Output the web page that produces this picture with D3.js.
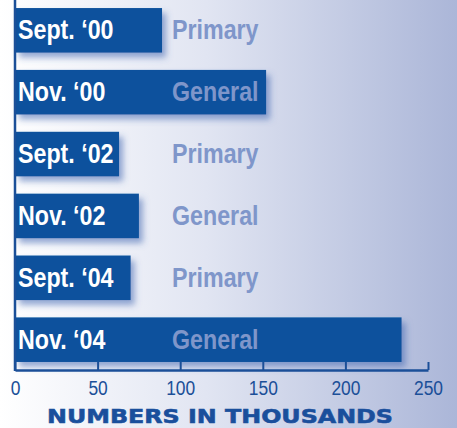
<!DOCTYPE html>
<html>
<head>
<meta charset="utf-8">
<script src="https://cdn.jsdelivr.net/npm/d3@7"></script>
<style>
  body { margin: 0; overflow: hidden; }
  svg { display: block; }
</style>
</head>
<body>
<div id="chart"></div>
<script>
// Data
const periods = ["Sept. ‘00", "Nov. ‘00", "Sept. ‘02", "Nov. ‘02", "Sept. ‘04", "Nov. ‘04"];
const electionTypes = ["Primary", "General", "Primary", "General", "Primary", "General"];
const voters = [89, 152, 63, 75, 70, 234]; // thousands
const ticks = [0, 50, 100, 150, 200, 250];

const width = 457;
const height = 428;
const narrow = 0.83; // squeeze text to look like a condensed face

const svg = d3.select("#chart")
    .append("svg")
    .attr("width", width)
    .attr("height", height);

const defs = svg.append("defs");

// Background gradient
const bg = defs.append("linearGradient")
    .attr("id", "bg-gradient")
    .attr("x1", "0%").attr("x2", "100%")
    .attr("y1", "0%").attr("y2", "0%");
bg.append("stop").attr("offset", "0%").style("stop-color", "#ffffff");
bg.append("stop").attr("offset", "45%").style("stop-color", "#e1e5f2");
bg.append("stop").attr("offset", "100%").style("stop-color", "#abb6d8");

// Bar shadow
const shadow = defs.append("filter")
    .attr("id", "shadow")
    .attr("x", "-10%").attr("y", "-20%")
    .attr("width", "130%").attr("height", "160%");
shadow.append("feDropShadow")
    .attr("dx", 4)
    .attr("dy", 5)
    .attr("stdDeviation", 3)
    .attr("flood-color", "#3d64b0")
    .attr("flood-opacity", 0.55);

svg.append("rect")
    .attr("width", width)
    .attr("height", height)
    .style("fill", "url(#bg-gradient)");

// Scales
const x = d3.scaleLinear()
    .domain([0, 250])
    .range([15, 428]);

const y = d3.scaleBand()
    .domain(periods)
    .range([0, 370])
    .paddingInner(0.28)
    .paddingOuter(0.13);

// Bars
const rows = svg.selectAll(".row")
    .data(periods)
    .enter()
    .append("g")
    .attr("class", "row")
    .attr("transform", d => `translate(0,${y(d)})`);

rows.append("rect")
    .attr("x", x(0))
    .attr("y", 0)
    .attr("width", (d, i) => x(voters[i]) - x(0))
    .attr("height", y.bandwidth())
    .attr("filter", "url(#shadow)")
    .style("fill", "#0b519d");

rows.append("text")
    .attr("transform", `translate(18,${y.bandwidth() / 2 + 9}) scale(${narrow},1)`)
    .text(d => d)
    .style("font-family", "'Liberation Sans', Arial, sans-serif")
    .style("font-weight", "bold")
    .style("font-size", "28px")
    .style("fill", "#ffffff");

rows.append("text")
    .attr("transform", `translate(172,${y.bandwidth() / 2 + 9}) scale(${narrow},1)`)
    .text((d, i) => electionTypes[i])
    .style("font-family", "'Liberation Sans', Arial, sans-serif")
    .style("font-weight", "bold")
    .style("font-size", "28px")
    .style("fill", "#7f96ca");

// Axes
const axisColor = "#1b4f98";

svg.append("line")
    .attr("x1", x(0)).attr("x2", x(0))
    .attr("y1", 0).attr("y2", 371)
    .style("stroke", axisColor)
    .style("stroke-width", 2.5);

const xAxis = svg.append("g")
    .attr("class", "x-axis")
    .attr("transform", "translate(0,370)")
    .call(d3.axisBottom(x).tickValues(ticks).tickSize(-8).tickSizeOuter(0));

xAxis.select(".domain")
    .style("stroke", axisColor)
    .style("stroke-width", 2.5);
xAxis.selectAll(".tick line")
    .style("stroke", axisColor)
    .style("stroke-width", 2);
xAxis.selectAll(".tick text")
    .attr("y", null)
    .attr("dy", null)
    .attr("transform", `translate(0,25) scale(${narrow},1)`)
    .style("font-family", "'Liberation Sans', Arial, sans-serif")
    .style("font-size", "21px")
    .style("fill", axisColor);

// Axis title
svg.append("text")
    .attr("x", 220)
    .attr("y", 423)
    .attr("text-anchor", "middle")
    .attr("textLength", 346)
    .attr("lengthAdjust", "spacingAndGlyphs")
    .text("NUMBERS IN THOUSANDS")
    .style("font-family", "'DejaVu Sans', sans-serif")
    .style("font-weight", "bold")
    .style("font-size", "20px")
    .style("fill", "#1a4f9c")
    .style("stroke", "#1a4f9c")
    .style("stroke-width", 0.6);
</script>
</body>
</html>
